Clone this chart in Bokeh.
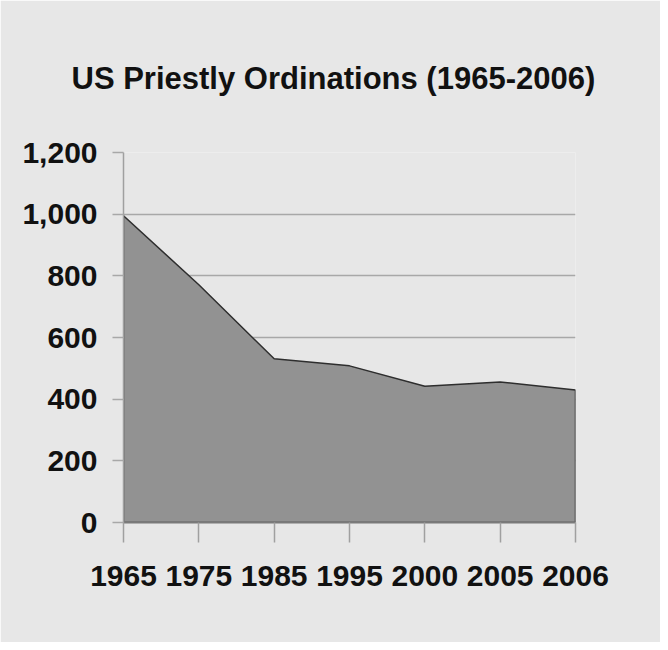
from bokeh.plotting import figure
from bokeh.models import Range1d, FixedTicker, NumeralTickFormatter
from bokeh.embed import file_html
from bokeh.resources import INLINE

years = ["1965", "1975", "1985", "1995", "2000", "2005", "2006"]
ordinations = [995, 771, 531, 508, 442, 456, 430]
y_ticks = [0, 200, 400, 600, 800, 1000, 1200]

idx = list(range(len(years)))

FONT = "Liberation Sans"
BG = "#e7e7e7"

p = figure(width=660, height=642, output_backend="svg", toolbar_location=None,
           x_range=Range1d(0, len(years) - 1), y_range=Range1d(0, 1200),
           title="US Priestly Ordinations (1965-2006)",
           min_border_left=123, min_border_right=85, min_border_top=152,
           min_border_bottom=120)

p.background_fill_color = BG
p.border_fill_color = BG
p.outline_line_color = None

p.title.text_font = FONT
p.title.text_font_size = "31px"
p.title.text_font_style = "bold"
p.title.text_color = "#111111"
p.title.align = "left"
p.title.offset = -52
p.title.standoff = 113

# area
xs = idx + [idx[-1], idx[0]]
ys = ordinations + [0, 0]
p.patch(xs, ys, fill_color="#929292", line_color="#2e2e2e", line_width=1.5)

# axes
p.xaxis.ticker = FixedTicker(ticks=idx)
p.xaxis.major_label_overrides = {i: y for i, y in zip(idx, years)}
p.xaxis.major_label_text_font = FONT
p.xaxis.major_label_text_font_size = "30px"
p.xaxis.major_label_text_font_style = "bold"
p.xaxis.major_label_text_color = "#111111"
p.xaxis.major_label_standoff = 23
p.xaxis.major_tick_out = 20
p.xaxis.major_tick_in = 0
p.xaxis.minor_tick_line_color = None
p.xaxis.major_tick_line_color = "#a0a0a0"
p.xaxis.major_tick_line_width = 1.5
p.xaxis.axis_line_color = "#7a7a7a"
p.xaxis.axis_line_width = 2

p.yaxis.ticker = FixedTicker(ticks=y_ticks)
p.yaxis.formatter = NumeralTickFormatter(format="0,0")
p.yaxis.major_label_text_font = FONT
p.yaxis.major_label_text_font_size = "30px"
p.yaxis.major_label_text_font_style = "bold"
p.yaxis.major_label_text_color = "#111111"
p.yaxis.major_label_standoff = 15
p.yaxis.major_tick_out = 11
p.yaxis.major_tick_in = 0
p.yaxis.minor_tick_line_color = None
p.yaxis.major_tick_line_color = "#a8a8a8"
p.yaxis.major_tick_line_width = 1.5
p.yaxis.axis_line_color = "#a0a0a0"
p.yaxis.axis_line_width = 1.5

p.xgrid.grid_line_color = None
p.ygrid.ticker = FixedTicker(ticks=y_ticks)
p.ygrid.grid_line_color = "#a8a8a8"
p.ygrid.grid_line_width = 1.5

open("out.html", "w").write(file_html(p, INLINE))
